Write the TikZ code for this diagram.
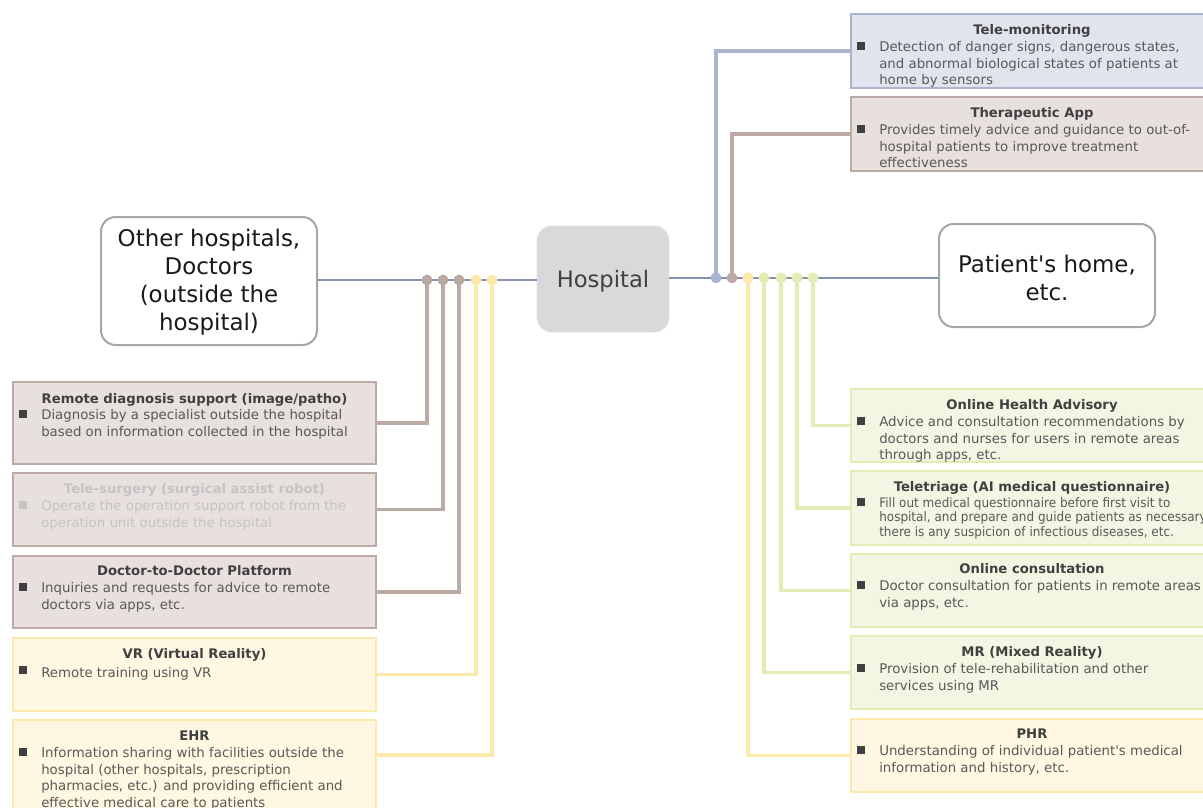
\documentclass[tikz,border=0pt]{standalone}
\usepackage{fontspec}
\setmainfont{DejaVu Sans}[Ligatures=TeXOff]
\newfontfamily\narrowfont{DejaVu Sans}[FakeStretch=0.92, Ligatures=TeXOff]
\usetikzlibrary{fit}

\definecolor{mainln}{HTML}{8591B1}
\definecolor{bluln}{HTML}{AAB4CF}
\definecolor{blufill}{HTML}{E1E4EC}
\definecolor{brnln}{HTML}{BCAAA4}
\definecolor{brnfill}{HTML}{E7E0DE}
\definecolor{yelln}{HTML}{FDE9A9}
\definecolor{yelfill}{HTML}{FFF7E1}
\definecolor{grnln}{HTML}{E4EBB3}
\definecolor{grnfill}{HTML}{F3F6E2}
\definecolor{hubfill}{HTML}{D9D9D9}
\definecolor{sideln}{HTML}{A6A6A6}
\definecolor{ttlgray}{HTML}{404040}
\definecolor{txtgray}{HTML}{595959}
\definecolor{fadegray}{HTML}{C4C4C4}

\begin{document}
\begin{tikzpicture}[
  x=0.75pt, y=-0.75pt,
  mainline/.style={draw=mainln, line width=1.4pt},
  branch/.style={line width=2.4pt},
  dotnode/.style={circle, fill=#1, inner sep=0pt, minimum size=8pt},
  card/.style={draw=#1ln, fill=#1fill, line width=1.5pt, inner sep=0pt},
  bigbox/.style={draw=sideln, fill=white, line width=1.5pt, rounded corners=11pt, inner sep=0pt},
  bigtext/.style={align=center, inner sep=0pt, text=black!90, font=\fontsize{17.2}{21}\selectfont},
  ttl/.style={anchor=base, inner sep=0pt, text=ttlgray,
    font=\bfseries\fontsize{9.9}{12}\selectfont},
  body/.style={anchor=north west, yshift=6.43pt, inner sep=0pt, align=left,
    text=txtgray, font=\fontsize{10}{12.4}\selectfont, execute at begin node=\strut},
  smallbody/.style={body, yshift=0.2pt, font=\narrowfont\fontsize{9.8}{10.9}\selectfont},
  bullet/.style={rectangle, fill=#1, inner sep=0pt, minimum size=5.3pt},
  bullet/.default=ttlgray
]
\useasboundingbox (0,0) rectangle (1203,807);
\clip (0,0) rectangle (1203,807);

% ---------- central nodes ----------
\node[rectangle, rounded corners=11pt, fill=hubfill, draw=hubfill!80!white, line width=0.5pt,
      fit={(537,226) (669,332)}, inner sep=0pt] (hosp) {};
\node[text=ttlgray, font=\fontsize{17}{20}\selectfont] (hospT) at ([yshift=-1.5pt]hosp.center) {Hospital};

\node[bigbox, fit={(101,217) (317,345)}] (oth) {};
\node[bigtext] (othT) at ([yshift=-1pt]oth.center)
  {Other hospitals,\\Doctors\\(outside the\\hospital)};

\node[bigbox, fit={(939,224) (1155,327)}] (pat) {};
\node[bigtext] (patT) at ([yshift=-1.5pt]pat.center)
  {Patient's home,\\etc.};

% ---------- trunk lines ----------
\coordinate (jl) at (427,280);
\coordinate (jr) at (716,277.8);
\draw[mainline] (oth.east |- jl) -- (hosp.west |- jl);
\draw[mainline] (hosp.east |- jr) -- (pat.west |- jr);

% ---------- junction dots ----------
\node[dotnode=brnln] (l1) at (427,280) {};
\node[dotnode=brnln] (l2) at (443,280) {};
\node[dotnode=brnln] (l3) at (459,280) {};
\node[dotnode=yelln] (l4) at (476,280) {};
\node[dotnode=yelln] (l5) at (492,280) {};

\node[dotnode=bluln] (r1) at (716,277.8) {};
\node[dotnode=brnln] (r2) at (732,277.8) {};
\node[dotnode=yelln] (r3) at (748,277.8) {};
\node[dotnode=grnln] (r4) at (764,277.8) {};
\node[dotnode=grnln] (r5) at (781,277.8) {};
\node[dotnode=grnln] (r6) at (797,277.8) {};
\node[dotnode=grnln] (r7) at (813,277.8) {};

% ---------- cards, left side (the EHR card runs past the lower edge) ----------
\node[card=brn, fit={(13,382) (376,464)}] (rd) {};
\node[card=brn, fit={(13,473) (376,546)}] (ts) {};
\node[card=brn, fit={(13,556) (376,628)}] (dd) {};
\node[card=yel, fit={(13,638) (376,711)}] (vr) {};
\node[card=yel, fit={(13,720) (376,820)}] (ehr) {};

% ---------- cards, right side (they run past the right edge) ----------
\node[card=blu, fit={(851,14) (1214,88)}] (tm) {};
\node[card=brn, fit={(851,97) (1214,171)}] (ta) {};
\node[card=grn, fit={(851,389) (1214,462)}] (oha) {};
\node[card=grn, fit={(851,471) (1214,545)}] (tt) {};
\node[card=grn, fit={(851,554) (1214,627)}] (oc) {};
\node[card=grn, fit={(851,636) (1214,709)}] (mr) {};
\node[card=yel, fit={(851,719) (1214,792)}] (phr) {};

% ---------- branch connectors ----------
\draw[branch, brnln] (l1.center) |- (rd.east);
\draw[branch, brnln] (l2.center) |- (ts.east);
\draw[branch, brnln] (l3.center) |- (dd.east);
\draw[branch, yelln] (l4.center) |- (vr.east);
\draw[branch, yelln] (l5.center) |- (ehr.east |- 0,755);

\draw[branch, bluln] (r1.center) |- (tm.west);
\draw[branch, brnln] (r2.center) |- (ta.west);
\draw[branch, yelln] (r3.center) |- (phr.west);
\draw[branch, grnln] (r4.center) |- (mr.west);
\draw[branch, grnln] (r5.center) |- (oc.west);
\draw[branch, grnln] (r6.center) |- (tt.west);
\draw[branch, grnln] (r7.center) |- (oha.west);

% redraw dots on top of their connectors
\foreach \d/\c in {l1/brnln,l2/brnln,l3/brnln,l4/yelln,l5/yelln,
                   r1/bluln,r2/brnln,r3/yelln,r4/grnln,r5/grnln,r6/grnln,r7/grnln}
  \fill[\c] (\d) circle (4pt);

% ---------- card texts, left ----------
\node[ttl] (rdT) at (194.5,403) {Remote diagnosis support (image/patho)};
\node[bullet] (rdB) at (23,414) {};
\node[body] (rdX) at (41,418) {Diagnosis by a specialist outside the hospital\\based on information collected in the hospital};

\node[ttl, text=fadegray] (tsT) at (194.5,493) {Tele-surgery (surgical assist robot)};
\node[bullet=fadegray] (tsB) at (23,505) {};
\node[body, text=fadegray] (tsX) at (41,509) {Operate the operation support robot from the\\operation unit outside the hospital};

\node[ttl] (ddT) at (194.5,575) {Doctor-to-Doctor Platform};
\node[bullet] (ddB) at (23,587) {};
\node[body] (ddX) at (41,591) {Inquiries and requests for advice to remote\\doctors via apps, etc.};

\node[ttl] (vrT) at (194.5,658) {VR (Virtual Reality)};
\node[bullet] (vrB) at (23,670) {};
\node[body] (vrX) at (41,674) {Remote training using VR};

\node[ttl] (ehrT) at (194.5,740) {EHR};
\node[bullet] (ehrB) at (23,752) {};
\node[body] (ehrX) at (41,756) {Information sharing with facilities outside the\\hospital (other hospitals, prescription\\pharmacies, etc.) and providing efficient and\\effective medical care to patients};

% ---------- card texts, right ----------
\node[ttl] (tmT) at (1032,34) {Tele-monitoring};
\node[bullet] (tmB) at (861,46) {};
\node[body] (tmX) at (879,50) {Detection of danger signs, dangerous states,\\and abnormal biological states of patients at\\home by sensors};

\node[ttl] (taT) at (1032,117) {Therapeutic App};
\node[bullet] (taB) at (861,129) {};
\node[body] (taX) at (879,133) {Provides timely advice and guidance to out-of-\\hospital patients to improve treatment\\effectiveness};

\node[ttl] (ohaT) at (1032,409) {Online Health Advisory};
\node[bullet] (ohaB) at (861,421) {};
\node[body] (ohaX) at (879,425) {Advice and consultation recommendations by\\doctors and nurses for users in remote areas\\through apps, etc.};

\node[ttl] (ttT) at (1032,491) {Teletriage (AI medical questionnaire)};
\node[bullet] (ttB) at (861,502) {};
\node[smallbody] (ttX) at (879,506) {Fill out medical questionnaire before first visit to\\hospital, and prepare and guide patients as necessary if\\there is any suspicion of infectious diseases, etc.};

\node[ttl] (ocT) at (1032,573) {Online consultation};
\node[bullet] (ocB) at (861,585) {};
\node[body] (ocX) at (879,589) {Doctor consultation for patients in remote areas\\via apps, etc.};

\node[ttl] (mrT) at (1032,656) {MR (Mixed Reality)};
\node[bullet] (mrB) at (861,668) {};
\node[body] (mrX) at (879,672) {Provision of tele-rehabilitation and other\\services using MR};

\node[ttl] (phrT) at (1032,738) {PHR};
\node[bullet] (phrB) at (861,750) {};
\node[body] (phrX) at (879,754) {Understanding of individual patient's medical\\information and history, etc.};
\end{tikzpicture}
\end{document}
